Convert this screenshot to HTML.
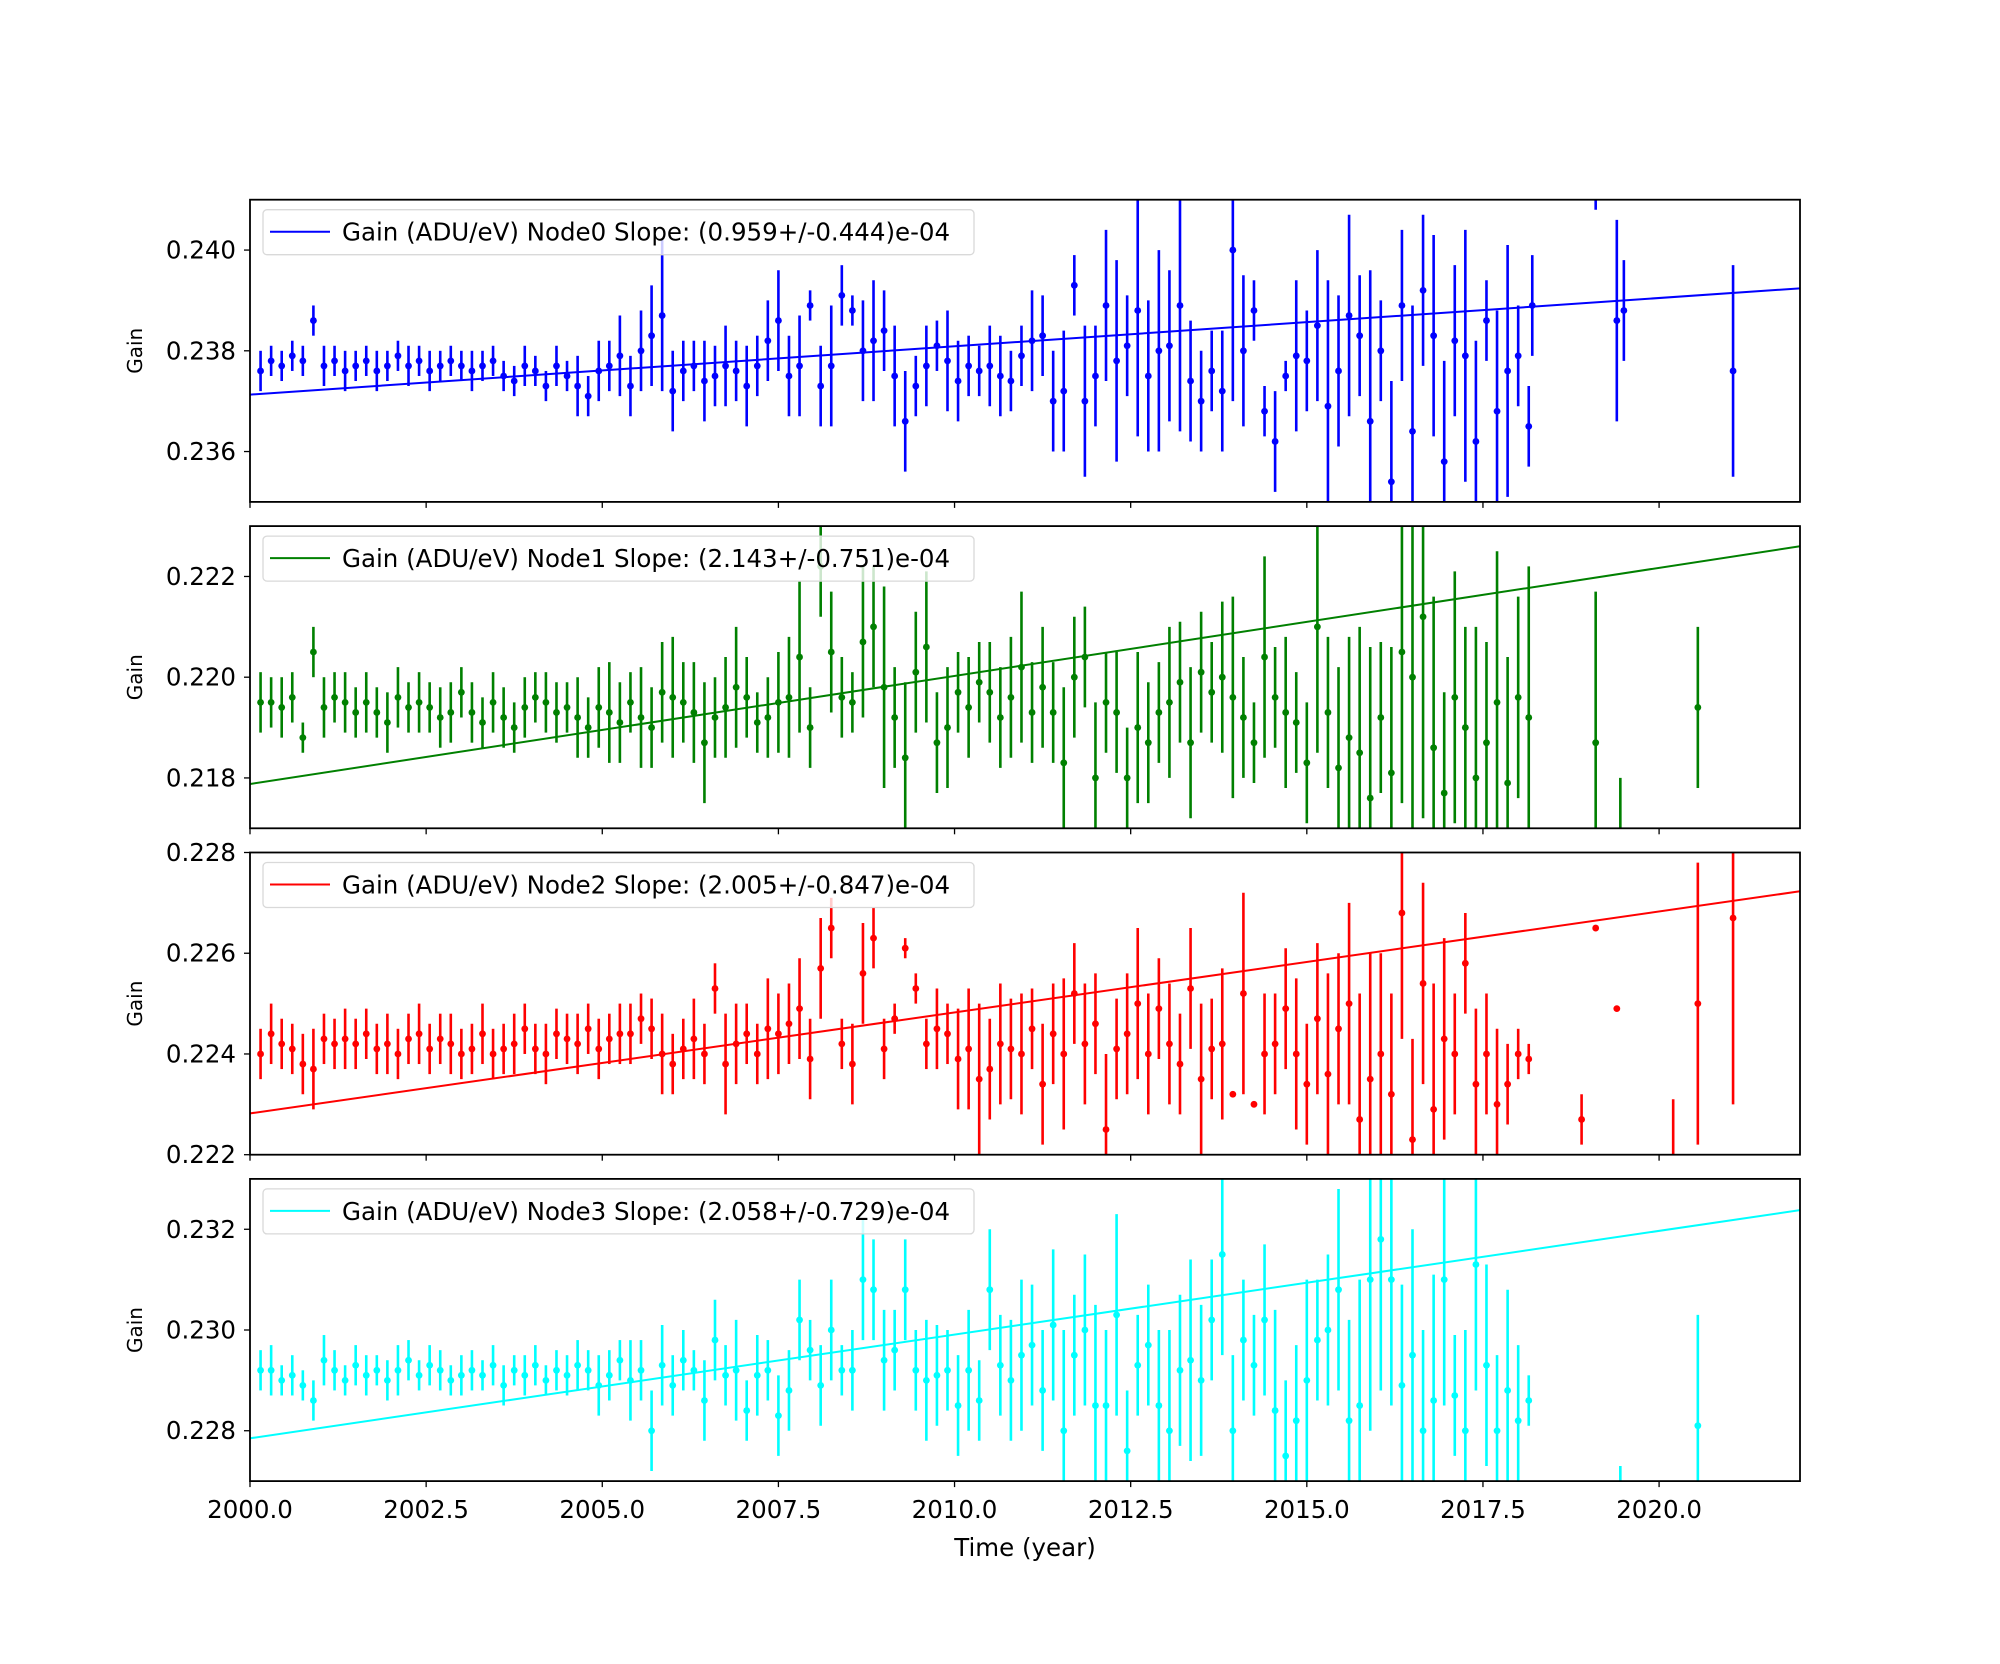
<!DOCTYPE html>
<html><head><meta charset="utf-8">
<style>
html,body{margin:0;padding:0;background:#fff;}
svg{display:block;font-family:"DejaVu Sans","Liberation Sans",sans-serif;}
</style></head>
<body>
<svg id="fig" width="2000" height="1664" viewBox="0 0 2000 1664" xmlns="http://www.w3.org/2000/svg">
<rect width="2000" height="1664" fill="#fff"/>
</svg>
<script>
// Shared sample times (years)
const times = [2000.15,2000.3,2000.45,2000.6,2000.75,2000.9,2001.05,2001.2,2001.35,2001.5,
2001.65,2001.8,2001.95,2002.1,2002.25,2002.4,2002.55,2002.7,2002.85,2003.0,
2003.15,2003.3,2003.45,2003.6,2003.75,2003.9,2004.05,2004.2,2004.35,2004.5,
2004.65,2004.8,2004.95,2005.1,2005.25,2005.4,2005.55,2005.7,2005.85,2006.0,
2006.15,2006.3,2006.45,2006.6,2006.75,2006.9,2007.05,2007.2,2007.35,2007.5,
2007.65,2007.8,2007.95,2008.1,2008.25,2008.4,2008.55,2008.7,2008.85,2009.0,
2009.15,2009.3,2009.45,2009.6,2009.75,2009.9,2010.05,2010.2,2010.35,2010.5,
2010.65,2010.8,2010.95,2011.1,2011.25,2011.4,2011.55,2011.7,2011.85,2012.0,
2012.15,2012.3,2012.45,2012.6,2012.75,2012.9,2013.05,2013.2,2013.35,2013.5,
2013.65,2013.8,2013.95,2014.1,2014.25,2014.4,2014.55,2014.7,2014.85,2015.0,
2015.15,2015.3,2015.45,2015.6,2015.75,2015.9,2016.05,2016.2,2016.35,2016.5,
2016.65,2016.8,2016.95,2017.1,2017.25,2017.4,2017.55,2017.7,2017.85,2018.0,2018.15];

// Node values, units of 1e-4 ADU/eV
const gain0 = [2376,2378,2377,2379,2378,2386,2377,2378,2376,2377,
2378,2376,2377,2379,2377,2378,2376,2377,2378,2377,
2376,2377,2378,2375,2374,2377,2376,2373,2377,2375,
2373,2371,2376,2377,2379,2373,2380,2383,2387,2372,
2376,2377,2374,2375,2377,2376,2373,2377,2382,2386,
2375,2377,2389,2373,2377,2391,2388,2380,2382,2384,
2375,2366,2373,2377,2381,2378,2374,2377,2376,2377,
2375,2374,2379,2382,2383,2370,2372,2393,2370,2375,
2389,2378,2381,2388,2375,2380,2381,2389,2374,2370,
2376,2372,2400,2380,2388,2368,2362,2375,2379,2378,
2385,2369,2376,2387,2383,2366,2380,2354,2389,2364,
2392,2383,2358,2382,2379,2362,2386,2368,2376,2379,2365];
const err0 = [4,3,3,3,3,3,4,3,4,3, 3,4,3,3,4,3,4,3,3,3, 4,3,3,3,3,4,3,3,4,3,
6,4,6,5,8,6,8,10,15,8, 6,5,8,6,8,6,8,6,8,10, 8,10,3,8,12,6,3,10,12,8,
10,10,6,8,5,10,8,6,5,8, 8,6,6,10,8,10,12,6,15,10, 15,20,10,25,15,20,15,25,12,10,
8,12,30,15,6,5,10,3,15,10, 15,25,15,20,12,30,10,20,15,25, 15,20,20,15,25,20,8,20,25,10,8];

const gain1 = [2195,2195,2194,2196,2188,2205,2194,2196,2195,2193,
2195,2193,2191,2196,2194,2195,2194,2192,2193,2197,
2193,2191,2195,2192,2190,2194,2196,2195,2193,2194,
2192,2190,2194,2193,2191,2195,2192,2190,2197,2196,
2195,2193,2187,2192,2194,2198,2196,2191,2192,2195,
2196,2204,2190,2222,2205,2196,2195,2207,2210,2198,
2192,2184,2201,2206,2187,2190,2197,2194,2199,2197,
2192,2196,2202,2193,2198,2193,2183,2200,2204,2180,
2195,2193,2180,2190,2187,2193,2195,2199,2187,2201,
2197,2200,2196,2192,2187,2204,2196,2193,2191,2183,
2210,2193,2182,2188,2185,2176,2192,2181,2205,2200,
2212,2186,2177,2196,2190,2180,2187,2195,2179,2196,2192];
const err1 = [6,5,6,5,3,5,6,5,6,5, 6,5,6,6,5,6,5,6,6,5, 6,5,6,6,5,6,5,6,6,5,
8,6,8,10,8,6,10,8,10,12, 8,10,12,8,10,12,8,6,8,10, 12,15,8,10,12,8,6,15,12,20,
10,15,12,15,10,12,8,10,8,10, 10,12,15,10,12,10,15,12,10,15, 10,12,10,15,12,10,15,12,15,12,
10,15,20,12,8,20,10,15,10,12, 25,15,20,20,25,30,15,25,30,35, 40,30,20,25,20,30,20,30,25,20,30];

const gain2 = [2240,2244,2242,2241,2238,2237,2243,2242,2243,2242,
2244,2241,2242,2240,2243,2244,2241,2243,2242,2240,
2241,2244,2240,2241,2242,2245,2241,2240,2244,2243,
2242,2245,2241,2243,2244,2244,2247,2245,2240,2238,
2241,2243,2240,2253,2238,2242,2244,2240,2245,2244,
2246,2249,2239,2257,2265,2242,2238,2256,2263,2241,
2247,2261,2253,2242,2245,2244,2239,2241,2235,2237,
2242,2241,2240,2245,2234,2244,2240,2252,2242,2246,
2225,2241,2244,2250,2240,2249,2242,2238,2253,2235,
2241,2242,2232,2252,2230,2240,2242,2249,2240,2234,
2247,2236,2245,2250,2227,2235,2240,2232,2268,2223,
2254,2229,2243,2240,2258,2234,2240,2230,2234,2240,2239];
const err2 = [5,6,5,5,6,8,5,5,6,5, 5,5,6,5,5,6,5,5,6,5, 5,6,5,5,6,5,5,6,5,5,
6,5,6,5,6,6,5,6,8,6, 6,8,6,5,10,8,6,6,10,8, 8,10,8,10,6,5,8,10,6,6,
3,2,3,5,8,6,10,12,15,10, 12,10,12,8,12,10,15,10,12,10, 15,10,12,15,12,10,12,10,12,15,
10,15,0,20,0,12,10,12,15,12, 15,20,15,20,25,25,20,20,25,20, 20,25,20,12,10,15,12,15,8,5,3];

const gain3 = [2292,2292,2290,2291,2289,2286,2294,2292,2290,2293,
2291,2292,2290,2292,2294,2291,2293,2292,2290,2291,
2292,2291,2293,2289,2292,2291,2293,2290,2292,2291,
2293,2292,2289,2291,2294,2290,2292,2280,2293,2289,
2294,2292,2286,2298,2291,2292,2284,2291,2292,2283,
2288,2302,2296,2289,2300,2292,2292,2310,2308,2294,
2296,2308,2292,2290,2291,2292,2285,2292,2286,2308,
2293,2290,2295,2297,2288,2301,2280,2295,2300,2285,
2285,2303,2276,2293,2297,2285,2280,2292,2294,2290,
2302,2315,2280,2298,2293,2302,2284,2275,2282,2290,
2298,2300,2308,2282,2285,2310,2318,2310,2289,2295,
2280,2286,2310,2287,2280,2313,2293,2280,2288,2282,2286];
const err3 = [4,5,3,4,3,4,5,4,3,4, 4,3,4,5,4,3,4,4,3,4, 4,3,4,4,3,4,4,3,4,4,
5,4,6,5,4,8,6,8,8,6, 6,4,8,8,6,10,6,8,6,8, 8,8,6,8,10,5,8,12,10,10,
8,10,8,12,10,8,10,12,8,12, 10,12,15,12,12,15,20,12,15,20, 15,20,12,10,12,15,20,15,20,15,
12,20,15,12,10,15,20,15,15,20, 12,15,20,20,25,30,30,25,20,25, 20,25,25,12,20,25,20,15,20,15,5];

// Isolated late measurements per node
const lateT0 = [2018.2, 2019.1, 2019.4, 2019.5, 2021.05];
const lateV0 = [2389, 2411, 2386, 2388, 2376];
const lateE0 = [10, 3, 20, 10, 21];
const lateT1 = [2019.1, 2019.45, 2020.55];
const lateV1 = [2187, 2150, 2194];
const lateE1 = [30, 30, 16];
const lateT2 = [2018.9, 2019.1, 2019.4, 2020.2, 2020.55, 2021.05];
const lateV2 = [2227, 2265, 2249, 2217, 2250, 2267];
const lateE2 = [5, 0.5, 0.5, 14, 28, 37];
const lateT3 = [2019.45, 2020.55];
const lateV3 = [2260, 2281];
const lateE3 = [13, 22];

// Linear fit endpoints (value at 2000 and at 2022, 1e-4 units)
const fitAt2000 = [2371.3, 2178.8, 2228.2, 2278.5];
const fitAt2022 = [2392.4, 2226.0, 2272.3, 2323.8];
const slopeText = ["(0.959+/-0.444)e-04","(2.143+/-0.751)e-04","(2.005+/-0.847)e-04","(2.058+/-0.729)e-04"];
const yMin = [2350, 2170, 2220, 2270];
const yMax = [2410, 2230, 2280, 2330];
const yTicks = [[2360,2380,2400],[2180,2200,2220],[2220,2240,2260,2280],[2280,2300,2320]];
const xTicks = [2000,2002.5,2005,2007.5,2010,2012.5,2015,2017.5,2020];
const colors = ["#0000ff","#008000","#ff0000","#00ffff"];

const NS = "http://www.w3.org/2000/svg";
const svg = document.getElementById('fig');
const L = 250, R = 1800, TOP = 199.7, AH = 302.2, GAP = 24.2, FS = 24.5;
const xScale = t => L + (t - 2000) / 22 * (R - L);
function mk(tag, attrs, parent){ const e = document.createElementNS(NS, tag); for (const k in attrs) e.setAttribute(k, attrs[k]); (parent||svg).appendChild(e); return e; }

const defs = mk('defs', {});
const allG = [[gain0,err0,lateT0,lateV0,lateE0],[gain1,err1,lateT1,lateV1,lateE1],[gain2,err2,lateT2,lateV2,lateE2],[gain3,err3,lateT3,lateV3,lateE3]];

for (let p = 0; p < 4; p++) {
  const top = TOP + p * (AH + GAP), bot = top + AH;
  const yS = v => bot - (v - yMin[p]) / (yMax[p] - yMin[p]) * AH;
  const cp = mk('clipPath', {id: 'clip' + p}, defs);
  mk('rect', {x: L, y: top, width: R - L, height: AH}, cp);
  const g = mk('g', {});
  
  
  const dg = mk('g', {'clip-path': 'url(#clip' + p + ')'}, g);
  
  
  const [vals, errs, lt, lv, le] = allG[p];
  const T = times.concat(lt), V = vals.concat(lv), E = errs.concat(le);
  for (let i = 0; i < T.length; i++) {
    const x = xScale(T[i]);
    const bar = mk('line', {x1: x, x2: x, y1: yS(V[i] - E[i]), y2: yS(V[i] + E[i]), stroke: colors[p], 'stroke-width': 2.6}, dg);
    
    
    const pt = mk('circle', {cx: x, cy: yS(V[i]), r: 3.4, fill: colors[p]}, dg);
    
    
  }
  const fit = mk('line', {x1: xScale(2000), x2: xScale(2022), y1: yS(fitAt2000[p]), y2: yS(fitAt2022[p]), stroke: colors[p], 'stroke-width': 2}, dg);
  
  
  const fr = mk('rect', {x: L, y: top, width: R - L, height: AH, fill: 'none', stroke: '#000', 'stroke-width': 1.8}, g);
  
  
  yTicks[p].forEach(v => {
    const y = yS(v);
    mk('line', {x1: L - 6, x2: L, y1: y, y2: y, stroke: '#000', 'stroke-width': 1.3}, g);
    const t = mk('text', {x: L - 14, y: y + 8.5, 'text-anchor': 'end', 'font-size': FS}, g);
    t.textContent = (v / 10000).toFixed(3);
    
    
  });
  const yl = mk('text', {x: 0, y: 0, 'text-anchor': 'middle', 'font-size': 20, transform: 'translate(142,' + (top + AH / 2) + ') rotate(-90)'}, g);
  yl.textContent = 'Gain';
  
  
  xTicks.forEach(t => {
    const x = xScale(t);
    mk('line', {x1: x, x2: x, y1: bot, y2: bot + 6, stroke: '#000', 'stroke-width': 1.3}, g);
    if (p === 3) {
      const tl = mk('text', {x: x, y: bot + 37, 'text-anchor': 'middle', 'font-size': FS}, g);
      tl.textContent = t.toFixed(1);
      
      
    }
  });
  const lg = mk('g', {}, g);
  
  
  mk('rect', {x: L + 13, y: top + 10, width: 711, height: 45, rx: 4, fill: '#fff', 'fill-opacity': 0.8, stroke: '#d9d9d9', 'stroke-width': 1.3}, lg);
  mk('line', {x1: L + 20, x2: L + 80, y1: top + 32, y2: top + 32, stroke: colors[p], 'stroke-width': 2}, lg);
  const lt2 = mk('text', {x: L + 92, y: top + 41, 'font-size': FS}, lg);
  lt2.textContent = 'Gain (ADU/eV) Node' + p + ' Slope: ' + slopeText[p];
}
const xl = mk('text', {x: 1025, y: 1556, 'text-anchor': 'middle', 'font-size': FS});
xl.textContent = 'Time (year)';


</script>
</body></html>
